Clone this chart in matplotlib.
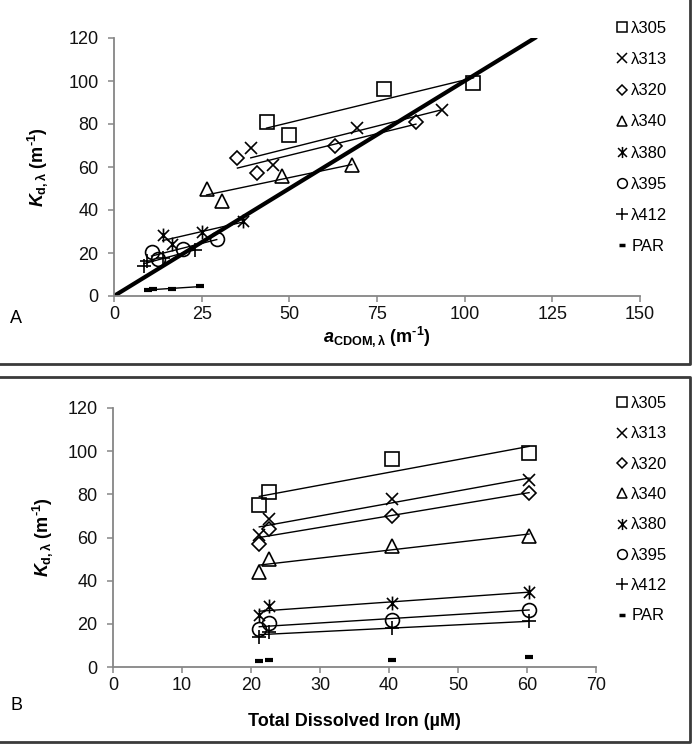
import numpy as np
import matplotlib
matplotlib.use("Agg")
import matplotlib.pyplot as plt
from matplotlib.path import Path
from matplotlib.lines import Line2D

plt.rcParams["font.family"] = ["Liberation Sans", "DejaVu Sans"]
plt.rcParams["mathtext.fontset"] = "custom"
plt.rcParams["mathtext.rm"] = "Liberation Sans:bold"
plt.rcParams["mathtext.it"] = "Liberation Sans:bold:italic"
plt.rcParams["mathtext.bf"] = "Liberation Sans:bold"

# Dados
rotulos = ["λ305", "λ313", "λ320", "λ340", "λ380", "λ395", "λ412", "PAR"]
ferro = [21.2, 22.6, 40.5, 60.3]

kd_305 = [75.0, 81.0, 96.3, 99.3]
kd_313 = [61.0, 68.8, 78.0, 86.5]
kd_320 = [57.0, 64.0, 70.0, 80.8]
kd_340 = [44.2, 50.0, 56.0, 60.7]
kd_380 = [24.0, 28.3, 29.8, 34.8]
kd_395 = [17.4, 20.5, 22.0, 26.6]
kd_412 = [14.0, 16.3, 17.9, 21.2]
kd_par = [2.8, 3.2, 3.2, 4.5]

acdom_305 = [50.0, 43.5, 77.0, 102.5]
acdom_313 = [45.2, 39.0, 69.2, 93.4]
acdom_320 = [40.7, 35.2, 63.0, 86.1]
acdom_340 = [30.7, 26.4, 47.8, 67.8]
acdom_380 = [16.4, 13.9, 25.0, 36.9]
acdom_395 = [12.6, 10.7, 19.8, 29.3]
acdom_412 = [8.5, 9.5, 14.0, 23.0]
acdom_par = [9.8, 11.0, 16.4, 24.5]

linha_1para1 = [0, 120]

kds = [kd_305, kd_313, kd_320, kd_340, kd_380, kd_395, kd_412, kd_par]
acdoms = [acdom_305, acdom_313, acdom_320, acdom_340,
          acdom_380, acdom_395, acdom_412, acdom_par]

# Marcador asterisco (x com traço vertical)
asterisco = Path([(-1, -1), (1, 1), (-1, 1), (1, -1), (0, -1.25), (0, 1.25)],
                 [Path.MOVETO, Path.LINETO, Path.MOVETO, Path.LINETO,
                  Path.MOVETO, Path.LINETO])
marcadores = ["s", "x", "D", "^", asterisco, "o", "+", "_"]
tamanhos = [10, 9, 7, 10, 10, 10, 10, 6]
tam_leg = [7, 7, 5, 7, 8, 7, 8, 4]

cinza = "#868686"
unidade = r"(m$^{\mathrm{‐1}}$)"


def estilizarEixo(ax, xmax, xpasso):
    ax.set_xlim(0, xmax)
    ax.set_ylim(0, 120)
    ax.set_xticks(np.arange(0, xmax + 1, xpasso))
    ax.set_yticks(np.arange(0, 121, 20))
    for lado in ["top", "right"]:
        ax.spines[lado].set_visible(False)
    for lado in ["left", "bottom"]:
        ax.spines[lado].set_color(cinza)
        ax.spines[lado].set_linewidth(1.3)
    ax.tick_params(direction="out", length=4, width=1.1, color=cinza,
                   labelsize=13, labelcolor="#111111")
    ax.tick_params(axis="y", pad=7)
    ax.tick_params(axis="x", pad=3)


def desenharSerie(ax, x, y, i, linha=True):
    mew = 3 if marcadores[i] == "_" else 1.2
    ax.plot(x, y, linestyle="none", marker=marcadores[i], ms=tamanhos[i],
            mfc="none", mec="black", mew=mew, clip_on=False)
    if linha:
        coef = np.polyfit(x, y, 1)
        xs = np.array([min(x), max(x)])
        ax.plot(xs, np.polyval(coef, xs), color="black", linewidth=1.0)


def legenda(fig, y_topo, espaco):
    alcas = []
    for i in range(len(rotulos)):
        mew = 2.5 if marcadores[i] == "_" else 1.1
        alcas.append(Line2D([], [], linestyle="none", marker=marcadores[i],
                            ms=tam_leg[i], mfc="none", mec="black", mew=mew))
    fig.legend(alcas, rotulos, loc="upper left",
               bbox_to_anchor=(617 / 693, y_topo), frameon=False,
               fontsize=12, handlelength=0.6, handletextpad=0.25,
               labelspacing=espaco, borderpad=0, borderaxespad=0)


fig = plt.figure(figsize=(6.93, 7.44), dpi=100)

# Painel A
axA = fig.add_axes([114 / 693, 1 - 296 / 744, 526 / 693, 258 / 744])
estilizarEixo(axA, 150, 25)
for i in range(len(rotulos)):
    desenharSerie(axA, acdoms[i], kds[i], i)
axA.plot(linha_1para1, linha_1para1, color="black", linewidth=3)
axA.set_xlabel(r"$a_{\mathrm{CDOM,λ}}$ " + unidade, fontsize=13,
               fontweight="bold", labelpad=1)
axA.set_ylabel(r"$K_{\mathrm{d,λ}}$ " + unidade, fontsize=13,
               fontweight="bold", labelpad=13)
fig.text(10 / 693, 1 - 318 / 744, "A", fontsize=13, va="center")
legenda(fig, 1 - 21 / 744, 0.97)

# Painel B
axB = fig.add_axes([113 / 693, 1 - 667 / 744, 483 / 693, 259 / 744])
estilizarEixo(axB, 70, 10)
for i in range(len(rotulos)):
    desenharSerie(axB, ferro, kds[i], i, linha=(rotulos[i] != "PAR"))
axB.set_xlabel("Total Dissolved Iron (µM)", fontsize=13, fontweight="bold",
               labelpad=14)
axB.set_ylabel(r"$K_{\mathrm{d,λ}}$ " + unidade, fontsize=13,
               fontweight="bold", labelpad=9)
fig.text(10 / 693, 1 - 705 / 744, "B", fontsize=13, va="center")
legenda(fig, 1 - 396 / 744, 0.92)

# Molduras dos painéis
borda = dict(color="#3a3a3a", linewidth=2, transform=fig.transFigure)
fig.add_artist(Line2D([0, 690 / 693, 690 / 693], [1 - 364 / 744] * 2 + [1.0], **borda))
fig.add_artist(Line2D([0, 690 / 693, 690 / 693, 0],
                      [1 - 377 / 744, 1 - 377 / 744, 1 - 742 / 744, 1 - 742 / 744], **borda))

fig.savefig("out.png", dpi=100)
